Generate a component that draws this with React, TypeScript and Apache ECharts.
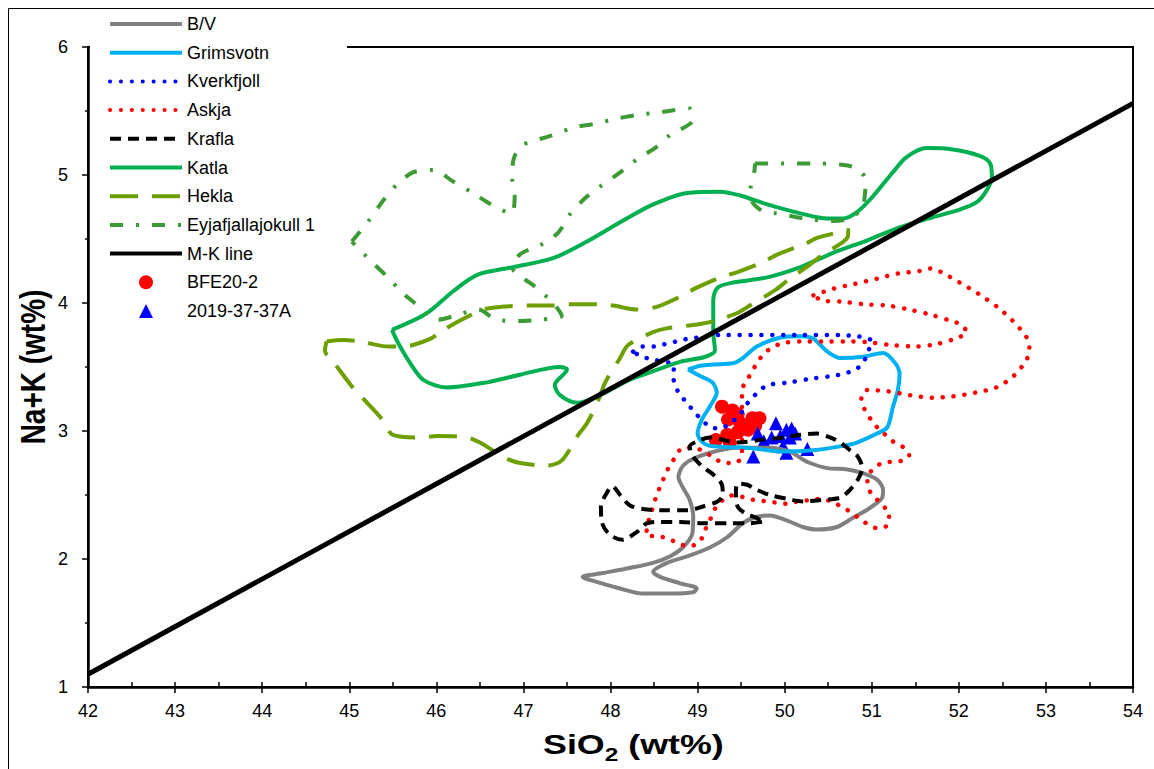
import React, { useEffect, useRef } from "react";
import * as echarts from "echarts";

// Axis ranges / ticks
const xMin = 42, xMax = 54, xStep = 1;
const yMin = 1, yMax = 6, yStep = 1;

// Field outlines (SiO2, Na+K)
const bv = [[48.82,2.72],[48.91,2.77],[49.14,2.83],[49.45,2.87],[49.83,2.87],[50.06,2.84],[50.18,2.79],[50.29,2.75],[50.49,2.71],[50.72,2.70],[50.90,2.67],[51.06,2.62],[51.13,2.54],[51.12,2.48],[50.98,2.40],[50.78,2.32],[50.60,2.25],[50.37,2.23],[50.21,2.25],[50.03,2.30],[49.83,2.34],[49.68,2.33],[49.52,2.28],[49.34,2.17],[49.14,2.09],[48.88,2.02],[48.65,1.97],[48.49,1.90],[48.57,1.86],[48.80,1.81],[48.99,1.77],[48.95,1.74],[48.68,1.73],[48.37,1.73],[48.11,1.77],[47.85,1.82],[47.68,1.86],[47.91,1.89],[48.22,1.93],[48.49,1.97],[48.68,2.02],[48.83,2.09],[48.94,2.20],[48.95,2.33],[48.91,2.46],[48.83,2.56],[48.78,2.64],[48.82,2.72]];

const grimsvotn = [[48.89,3.48],[49.03,3.51],[49.18,3.52],[49.41,3.53],[49.52,3.57],[49.68,3.66],[49.95,3.73],[50.18,3.74],[50.33,3.72],[50.49,3.62],[50.64,3.57],[50.90,3.58],[51.13,3.61],[51.27,3.53],[51.32,3.44],[51.30,3.32],[51.24,3.18],[51.18,3.03],[51.06,2.98],[50.83,2.91],[50.64,2.88],[50.33,2.85],[49.95,2.84],[49.57,2.87],[49.18,2.88],[49.06,2.91],[49.00,2.98],[49.05,3.09],[49.14,3.19],[49.22,3.30],[49.17,3.38],[49.03,3.43],[48.89,3.48]];

const kverkfjoll = [[48.26,3.62],[48.37,3.66],[48.51,3.66],[48.63,3.68],[48.76,3.70],[48.88,3.72],[49.00,3.73],[49.26,3.75],[49.72,3.75],[50.18,3.75],[50.64,3.75],[50.81,3.74],[50.93,3.73],[51.00,3.70],[50.95,3.61],[50.90,3.53],[50.81,3.48],[50.69,3.45],[50.55,3.43],[50.31,3.41],[50.06,3.38],[49.81,3.36],[49.72,3.32],[49.63,3.26],[49.54,3.19],[49.49,3.13],[49.37,3.06],[49.26,3.02],[49.14,3.03],[49.05,3.09],[48.97,3.14],[48.88,3.22],[48.80,3.28],[48.74,3.36],[48.72,3.43],[48.73,3.51],[48.48,3.56],[48.36,3.58],[48.26,3.62]];

const askja = [[50.33,4.06],[50.55,4.11],[50.81,4.15],[51.06,4.19],[51.30,4.23],[51.55,4.25],[51.68,4.27],[51.80,4.24],[52.01,4.16],[52.23,4.07],[52.44,3.97],[52.62,3.86],[52.78,3.73],[52.81,3.65],[52.78,3.56],[52.63,3.43],[52.43,3.34],[52.19,3.30],[51.93,3.27],[51.69,3.26],[51.44,3.28],[51.19,3.31],[50.95,3.32],[50.88,3.26],[50.91,3.18],[50.98,3.10],[51.06,3.03],[51.14,2.98],[51.24,2.92],[51.35,2.88],[51.43,2.81],[51.36,2.77],[51.23,2.76],[51.12,2.75],[51.01,2.70],[50.95,2.63],[50.96,2.55],[51.04,2.48],[51.12,2.42],[51.20,2.36],[51.19,2.27],[51.07,2.24],[50.96,2.27],[50.85,2.32],[50.75,2.37],[50.65,2.41],[50.53,2.45],[50.41,2.47],[50.29,2.46],[50.15,2.45],[50.04,2.43],[49.91,2.44],[49.80,2.45],[49.66,2.46],[49.54,2.48],[49.42,2.50],[49.29,2.46],[49.22,2.42],[49.17,2.34],[49.11,2.27],[49.07,2.19],[49.00,2.12],[48.88,2.10],[48.76,2.13],[48.65,2.16],[48.53,2.18],[48.41,2.18],[48.42,2.25],[48.45,2.33],[48.49,2.41],[48.53,2.50],[48.58,2.58],[48.63,2.66],[48.68,2.73],[48.75,2.80],[48.83,2.87],[48.95,2.87],[49.07,2.84],[49.19,2.79],[49.30,2.75],[49.43,2.75],[49.51,2.81],[49.51,3.01],[49.51,3.24],[49.51,3.32],[49.57,3.40],[49.63,3.47],[49.69,3.54],[49.77,3.61],[49.88,3.66],[50.00,3.69],[50.25,3.70],[50.50,3.70],[50.75,3.70],[51.00,3.69],[51.24,3.67],[51.50,3.66],[51.75,3.68],[51.99,3.73],[52.09,3.77],[52.03,3.83],[51.91,3.86],[51.67,3.91],[51.42,3.95],[51.18,3.98],[50.92,3.99],[50.67,4.01],[50.43,4.02],[50.33,4.06]];

const krafla = [[49.74,2.29],[49.60,2.28],[49.37,2.28],[49.06,2.28],[48.80,2.29],[48.57,2.29],[48.42,2.28],[48.30,2.21],[48.14,2.15],[47.99,2.19],[47.90,2.29],[47.89,2.41],[47.96,2.52],[48.02,2.57],[48.11,2.50],[48.22,2.42],[48.37,2.39],[48.60,2.38],[48.88,2.38],[49.06,2.41],[49.23,2.45],[49.29,2.50],[49.28,2.58],[49.18,2.66],[49.06,2.72],[48.95,2.80],[48.91,2.88],[49.00,2.92],[49.14,2.95],[49.46,2.91],[49.72,2.93],[50.00,2.95],[50.18,2.97],[50.37,2.98],[50.52,2.95],[50.64,2.91],[50.75,2.85],[50.84,2.80],[50.89,2.71],[50.84,2.62],[50.75,2.54],[50.64,2.48],[50.41,2.46],[50.21,2.45],[50.03,2.47],[49.83,2.50],[49.68,2.54],[49.57,2.58],[49.46,2.59],[49.44,2.52],[49.46,2.41],[49.54,2.36],[49.68,2.32],[49.74,2.29]];

const katla = [[45.49,3.79],[45.89,3.92],[46.19,4.09],[46.47,4.22],[46.88,4.28],[47.34,4.35],[47.73,4.48],[48.11,4.63],[48.49,4.77],[48.88,4.86],[49.26,4.87],[49.49,4.84],[49.80,4.77],[50.18,4.70],[50.49,4.66],[50.67,4.66],[50.83,4.71],[51.01,4.83],[51.24,5.02],[51.40,5.14],[51.63,5.21],[51.93,5.20],[52.24,5.15],[52.36,5.09],[52.38,4.98],[52.32,4.88],[52.21,4.79],[52.01,4.73],[51.70,4.67],[51.32,4.59],[50.95,4.49],[50.55,4.39],[50.18,4.28],[49.80,4.20],[49.41,4.16],[49.23,4.12],[49.18,4.02],[49.18,3.87],[49.18,3.77],[49.20,3.63],[49.09,3.58],[48.80,3.54],[48.42,3.45],[48.22,3.40],[47.88,3.28],[47.62,3.22],[47.42,3.28],[47.36,3.36],[47.50,3.48],[47.42,3.50],[46.96,3.44],[46.58,3.38],[46.12,3.34],[45.85,3.40],[45.70,3.53],[45.56,3.69],[45.49,3.79]];

const hekla = [[44.74,3.70],[44.93,3.71],[45.12,3.70],[45.45,3.66],[45.62,3.66],[45.93,3.72],[46.08,3.79],[46.35,3.89],[46.54,3.95],[46.75,3.97],[47.04,3.98],[47.34,3.98],[47.53,3.99],[47.88,3.99],[48.03,3.98],[48.30,3.95],[48.53,3.97],[48.83,4.06],[48.99,4.12],[49.26,4.20],[49.45,4.24],[49.75,4.32],[49.92,4.38],[50.23,4.46],[50.38,4.51],[50.73,4.57],[50.72,4.51],[50.44,4.38],[50.29,4.30],[50.04,4.18],[49.89,4.10],[49.60,3.98],[49.45,3.92],[49.14,3.85],[48.97,3.83],[48.63,3.80],[48.48,3.77],[48.20,3.67],[48.11,3.57],[47.94,3.38],[47.86,3.24],[47.73,3.06],[47.63,2.97],[47.44,2.77],[47.27,2.73],[46.96,2.75],[46.79,2.79],[46.50,2.91],[46.35,2.95],[46.01,2.96],[45.81,2.95],[45.50,2.97],[45.38,3.09],[45.15,3.26],[45.04,3.34],[44.84,3.52],[44.72,3.63],[44.74,3.70]];

const eyjaA = [[45.03,4.48],[45.22,4.64],[45.39,4.80],[45.54,4.92],[45.73,5.02],[45.97,5.04],[46.19,4.95],[46.42,4.86],[46.63,4.77],[46.86,4.70],[46.90,4.84],[46.87,4.98],[46.89,5.13],[46.98,5.23],[47.09,5.26],[47.33,5.31],[47.57,5.37],[47.82,5.40],[48.07,5.44],[48.32,5.47],[48.57,5.49],[48.91,5.52],[48.94,5.43],[48.68,5.31],[48.53,5.22],[48.30,5.12],[48.11,5.02],[47.88,4.91],[47.71,4.82],[47.53,4.69],[47.40,4.55],[47.19,4.45],[46.96,4.38],[46.88,4.27],[47.11,4.14],[47.34,4.00],[47.44,3.90],[47.19,3.87],[46.94,3.86],[46.69,3.87],[46.48,3.95],[46.26,3.91],[46.02,3.87],[45.87,3.92],[45.75,4.00],[45.61,4.08],[45.43,4.21],[45.26,4.32],[45.03,4.48]];

const eyjaB = [[49.66,5.09],[49.99,5.09],[50.33,5.09],[50.66,5.08],[50.83,5.05],[50.93,4.96],[50.92,4.84],[50.89,4.74],[50.74,4.66],[50.55,4.64],[50.23,4.66],[49.91,4.70],[49.74,4.72],[49.61,4.82],[49.61,4.90],[49.65,5.02],[49.66,5.09]];

// MacDonald-Katsura alkaline/tholeiitic divide
const mkLine = [[42, 1.10], [54, 5.56]];

// Samples
const bfeX = [49.28, 49.40, 49.46, 49.35, 49.49, 49.63, 49.71, 49.58, 49.46, 49.34, 49.21, 49.37, 49.51, 49.66];
const bfeY = [3.19, 3.16, 3.13, 3.09, 3.06, 3.10, 3.10, 3.01, 2.99, 2.97, 2.93, 2.91, 3.04, 3.04];
const s2019X = [49.69, 49.76, 49.90, 49.85, 49.95, 50.02, 50.08, 50.06, 49.98, 50.02, 49.64, 50.26, 50.12];
const s2019Y = [2.98, 2.92, 3.06, 2.95, 2.96, 3.01, 3.02, 2.95, 2.88, 2.83, 2.80, 2.86, 2.98];

const lineNames = ["B/V", "Grimsvotn", "Kverkfjoll", "Askja", "Krafla", "Katla", "Hekla", "Eyjafjallajokull 1", "M-K line"];
const pointNames = ["BFE20-2", "2019-37-37A"];
const xTitle = "SiO";
const xTitleSub = "2";
const xTitleTail = " (wt%)";
const yTitle = "Na+K (wt%)";

const FONT = "'Liberation Sans', Arial, sans-serif";
const TRIANGLE_ICON = "path://M5,0 L10,10 L0,10 Z";

function lineSeries(name: string, data: number[][], color: string, type: any, width = 4, cap = "butt", smooth: number | boolean = 0.3) {
  return {
    name,
    type: "line",
    data,
    symbol: "none",
    showSymbol: false,
    smooth,
    silent: true,
    lineStyle: { color, width, type, cap, join: "round" },
    itemStyle: { color },
    emphasis: { disabled: true },
  };
}

export default function App() {
  const ref = useRef<HTMLDivElement>(null);
  useEffect(() => {
    if (!ref.current) return;
    const chart = echarts.init(ref.current, null, { renderer: "svg" });
    const dots = [0.1, 10.8];
    const legendData: any[] = [
      ...lineNames.map((n) => ({ name: n, itemStyle: { opacity: 0 } })),
      { name: pointNames[0], icon: "circle" },
      { name: pointNames[1], icon: TRIANGLE_ICON },
    ];
    chart.setOption({
      animation: false,
      backgroundColor: "#fff",
      textStyle: { fontFamily: FONT },
      grid: { left: 88, top: 47, width: 1045, height: 640, show: true, borderColor: "#000", borderWidth: 2, backgroundColor: "transparent" },
      graphic: [
        { type: "rect", shape: { x: 8.5, y: 8.5, width: 1200, height: 800 }, style: { fill: "none", stroke: "#000", lineWidth: 1 }, silent: true, z: -1 },
        {
          type: "text", x: 543, y: 744, scaleX: 1.28, silent: true, z: 10,
          style: {
            text: `{a|${xTitle}}{b|${xTitleSub}}{a|${xTitleTail}}`,
            align: "left", verticalAlign: "middle", textAlign: "left", textVerticalAlign: "middle",
            fill: "#000",
            rich: {
              a: { fontSize: 28, fontWeight: "bold", fill: "#000", fontFamily: FONT },
              b: { fontSize: 19, fontWeight: "bold", fill: "#000", fontFamily: FONT, padding: [20, 0, 0, 0] },
            },
          },
        },
        {
          type: "text", x: 33, y: 367, rotation: Math.PI / 2, scaleY: 1.28, silent: true, z: 10,
          style: {
            text: yTitle,
            font: `bold 28px ${FONT}`,
            fontSize: 28, fontWeight: "bold", fontFamily: FONT,
            align: "center", verticalAlign: "middle", textAlign: "center", textVerticalAlign: "middle",
            fill: "#000",
          },
        },
      ],
      legend: {
        orient: "vertical",
        left: 90,
        top: 10,
        padding: [5, 32, 5, 18],
        itemWidth: 72,
        itemHeight: 14,
        itemGap: 10.7,
        backgroundColor: "#fff",
        data: legendData,
        selectedMode: false,
        lineStyle: { width: 4 },
        textStyle: { fontSize: 18, color: "#000", fontFamily: FONT },
      },
      xAxis: [
        {
          type: "value", min: xMin, max: xMax, interval: xStep,
          axisLine: { show: true, onZero: false, lineStyle: { color: "#000", width: 2.5 } },
          axisTick: { show: true, length: 6, lineStyle: { color: "#000", width: 1.5 } },
          axisLabel: { fontSize: 18, color: "#000", margin: 15, fontFamily: FONT },
          splitLine: { show: false },
        },
        {
          type: "value", min: xMin, max: xMax, interval: 0.5, position: "bottom",
          axisLine: { show: false },
          axisTick: { show: true, inside: true, length: 5, lineStyle: { color: "#000", width: 1.5 } },
          axisLabel: { show: false },
          splitLine: { show: false },
        },
      ],
      yAxis: {
        type: "value", min: yMin, max: yMax, interval: yStep,
        axisLine: { show: true, onZero: false, lineStyle: { color: "#000", width: 2.5 } },
        axisTick: { show: true, length: 6, lineStyle: { color: "#000", width: 1.5 } },
        minorTick: { show: true, splitNumber: 2, length: 3, lineStyle: { color: "#000", width: 1.5 } },
        axisLabel: { fontSize: 18, color: "#000", margin: 20, fontFamily: FONT },
        splitLine: { show: false },
      },
      series: [
        lineSeries("B/V", bv, "#808080", "solid", 4),
        lineSeries("Grimsvotn", grimsvotn, "#00b0f0", "solid", 4),
        lineSeries("Kverkfjoll", kverkfjoll, "#0000ff", dots, 4.5, "round"),
        lineSeries("Askja", askja, "#ff0000", dots, 4.5, "round"),
        lineSeries("Krafla", krafla, "#000000", [11, 7], 4),
        lineSeries("Katla", katla, "#00b050", "solid", 4),
        lineSeries("Hekla", hekla, "#6e9f00", [28, 14], 4),
        lineSeries("Eyjafjallajokull 1", eyjaA, "#3d9b35", [13, 13, 3, 13], 4),
        lineSeries("Eyjafjallajokull 1", eyjaB, "#3d9b35", [13, 13, 3, 13], 4),
        lineSeries("M-K line", mkLine, "#000000", "solid", 5, "butt", false),
        {
          name: "BFE20-2", type: "scatter", symbol: "circle", symbolSize: 14,
          data: bfeX.map((x, i) => [x, bfeY[i]]),
          itemStyle: { color: "#ff0000", opacity: 1 }, silent: true,
        },
        {
          name: "2019-37-37A", type: "scatter", symbol: "triangle", symbolSize: 14,
          data: s2019X.map((x, i) => [x, s2019Y[i]]),
          itemStyle: { color: "#0000ff", opacity: 1 }, silent: true,
        },
      ],
    });
    return () => chart.dispose();
  }, []);
  return <div ref={ref} style={{ position: "fixed", left: 0, top: 0, width: 1154, height: 769, background: "#fff" }} />;
}
